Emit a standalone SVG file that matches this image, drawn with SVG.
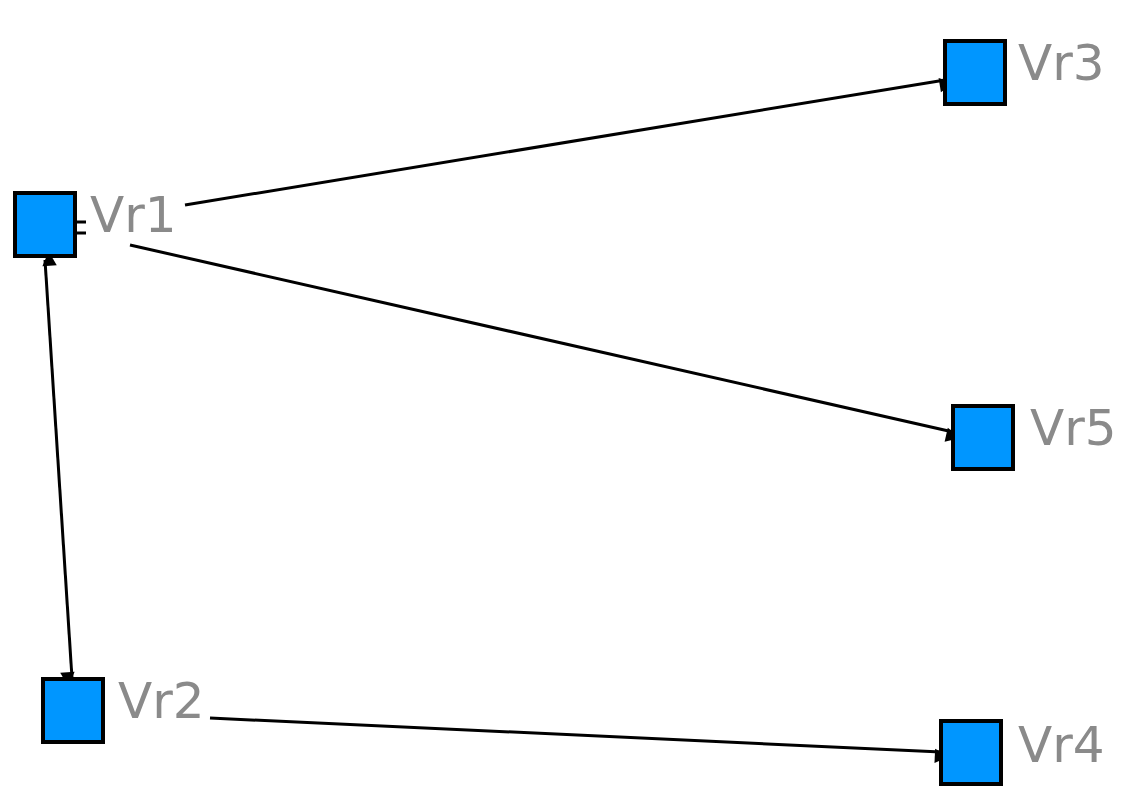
<svg xmlns="http://www.w3.org/2000/svg" width="1139" height="812" viewBox="0 0 1139 812">
<style>
.n{fill:#0096ff;stroke:#000;stroke-width:4}
.t{font-family:"DejaVu Sans",sans-serif;font-size:50px;fill:#8a8a8a}
.e{stroke:#000;stroke-width:3;fill:none;marker-end:url(#a)}
</style>
<defs><marker id="a" viewBox="0 0 10 10" refX="10" refY="5" markerWidth="8" markerHeight="6" orient="auto-start-reverse" markerUnits="userSpaceOnUse" style="overflow:visible"><path d="M0,0L10,5L0,10z" transform="scale(2.4)" fill="#000"/></marker></defs>
<rect width="1139" height="812" fill="#fff"/>
<g id="edges">
<path class="e" d="M185,205L945,80"/>
<path class="e" d="M130,245L953,432"/>
<path class="e" d="M45,260L72,678" style="marker-start:url(#a)"/>
<path class="e" d="M210,718L941,752"/>
<path d="M77,222h9M77,233h9" stroke="#000" stroke-width="3"/>
</g>
<g id="Vr1"><rect class="n" x="15" y="193" width="60" height="63"/><text class="t" x="90" y="232">Vr1</text></g>
<g id="Vr3"><rect class="n" x="945" y="41" width="60" height="63"/><text class="t" x="1018" y="80">Vr3</text></g>
<g id="Vr5"><rect class="n" x="953" y="406" width="60" height="63"/><text class="t" x="1030" y="445">Vr5</text></g>
<g id="Vr2"><rect class="n" x="43" y="679" width="60" height="63"/><text class="t" x="118" y="718">Vr2</text></g>
<g id="Vr4"><rect class="n" x="941" y="721" width="60" height="63"/><text class="t" x="1018" y="762">Vr4</text></g>
</svg>
